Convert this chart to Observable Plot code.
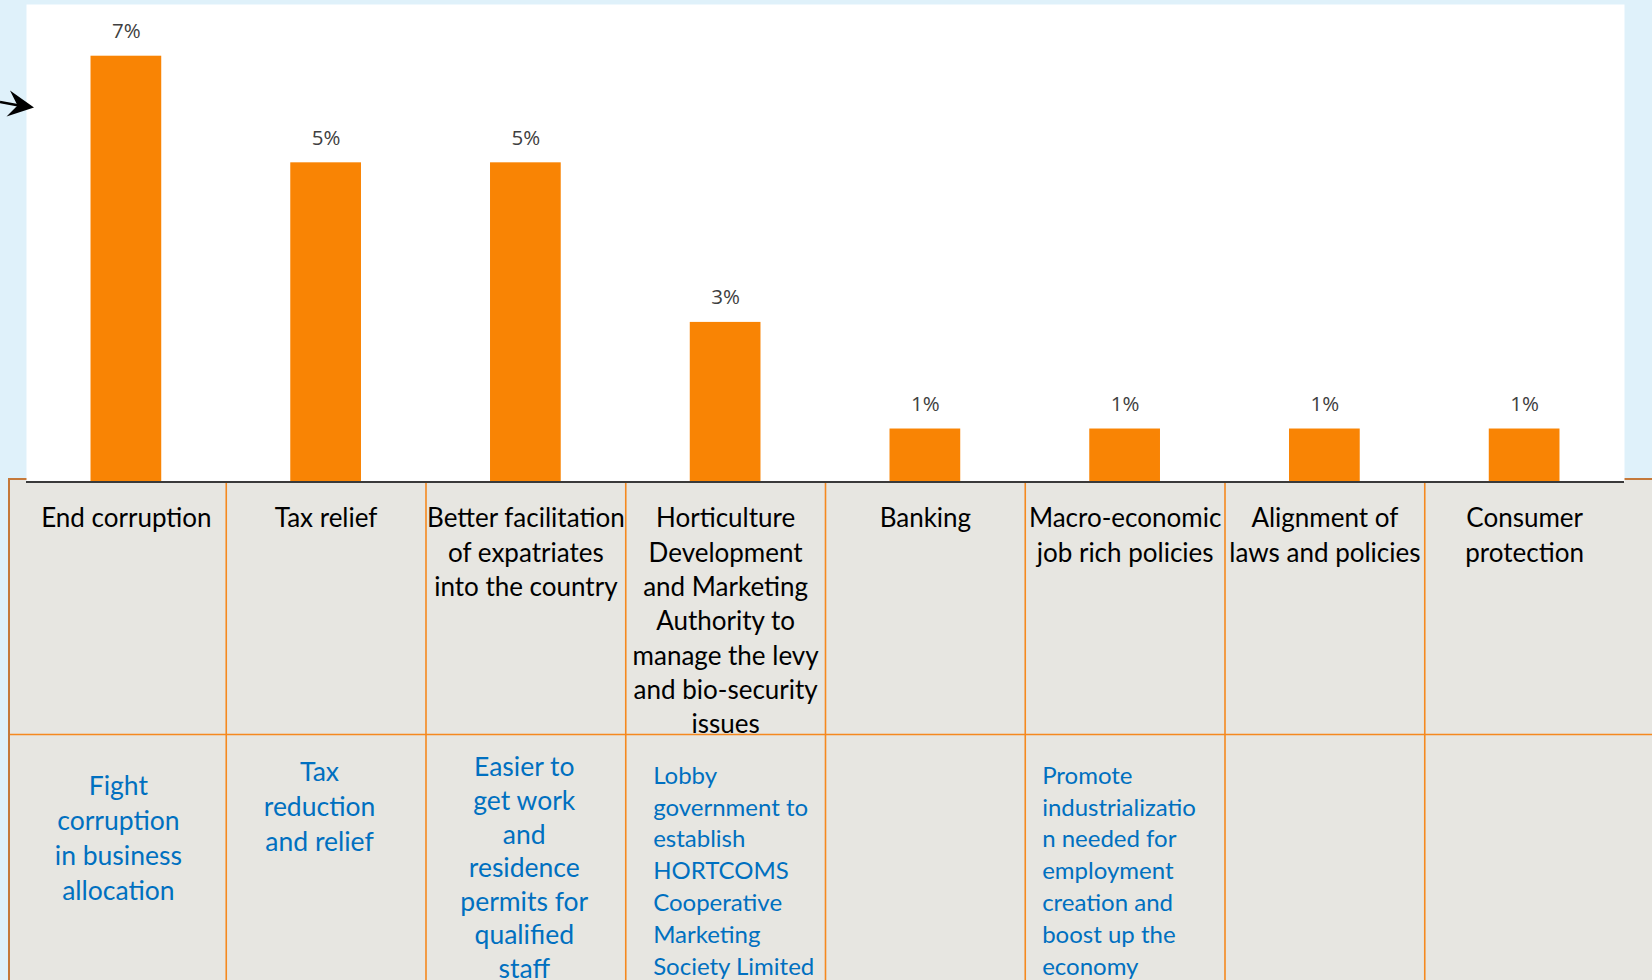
<!DOCTYPE html>
<html>
<head>
<meta charset="utf-8">
<script src="https://cdn.jsdelivr.net/npm/d3@7"></script>
<script src="https://cdn.jsdelivr.net/npm/@observablehq/plot@0.6"></script>
<style>
html, body { margin:0; padding:0; background:#DFF1FA; overflow:hidden; }
#wrap { position:relative; width:1652px; height:980px; }
#tablebg { position:absolute; left:8px; top:478px; width:1644px; height:502px; background:#E7E6E1;
  border-left:2px solid #C5793A; border-top:2px solid #C5793A; box-sizing:border-box; }
#table { position:absolute; left:0; top:479px; }
#chart { position:absolute; left:0; top:0; }
#arrow { position:absolute; left:0; top:0; }
</style>
</head>
<body>
<div id="wrap">
  <div id="tablebg"></div>
  <div id="table"></div>
  <div id="chart"></div>
  <svg id="arrow" width="40" height="130" viewBox="0 0 40 130">
    <path d="M0,102 L19,105.5" stroke="#000" stroke-width="2.6" fill="none"/>
    <path d="M34,107.5 L10,90.5 L17.5,105.5 L6.5,116.5 Z" fill="#000"/>
  </svg>
</div>
<script>
// ---- data ----
const categories = [
  "End corruption",
  "Tax relief",
  "Better facilitation\nof expatriates\ninto the country",
  "Horticulture\nDevelopment\nand Marketing\nAuthority to\nmanage the levy\nand bio-security\nissues",
  "Banking",
  "Macro-economic\njob rich policies",
  "Alignment of\nlaws and policies",
  "Consumer\nprotection"
];
const values = [6.67, 5.0, 5.0, 2.5, 0.83, 0.83, 0.83, 0.83];
const valueLabels = ["7%", "5%", "5%", "3%", "1%", "1%", "1%", "1%"];
const proposals = [
  "Fight\ncorruption\nin business\nallocation",
  "Tax\nreduction\nand relief",
  "Easier to\nget work\nand\nresidence\npermits for\nqualified\nstaff",
  "Lobby\ngovernment to\nestablish\nHORTCOMS\nCooperative\nMarketing\nSociety Limited",
  "",
  "Promote\nindustrializatio\nn needed for\nemployment\ncreation and\nboost up the\neconomy",
  "",
  ""
];
const rows = ["Constraint", "Proposal"];

// ---- tables built from the arrays ----
const bars = categories.map((c, i) => ({category: c, value: values[i], label: valueLabels[i]}));
const proposalRows = categories.map((c, i) => ({category: c, text: proposals[i]}));

// ---- layout / style ----
const ORANGE = "#F98404";
const GRID = "#F5891F";
const BLUE = "#0070C0";
const X0 = 26, X1 = 1624;
const step = (X1 - X0) / categories.length;

const chart = Plot.plot({
  width: 1652, height: 484,
  marginLeft: X0, marginRight: 1652 - X1, marginTop: 4, marginBottom: 2.5,
  style: {background: "transparent", overflow: "visible"},
  x: {type: "band", domain: categories, paddingInner: 0.646, paddingOuter: 0.323, round: false, axis: null},
  y: {domain: [0, 7.48], axis: null},
  marks: [
    Plot.frame({fill: "white", stroke: "none"}),
    Plot.barY(bars, {x: "category", y: "value", fill: ORANGE}),
    Plot.ruleY([0], {stroke: "#3A3A3A", strokeWidth: 2}),
    Plot.text(bars, {x: "category", y: "value", text: "label", dy: -18, lineAnchor: "bottom",
      fontFamily: "Open Sans", fontSize: 20.5, fill: "#404040"})
  ]
});
document.getElementById("chart").appendChild(chart);

// per-column typography of the blue proposal row
const blueStyles = {
  0: {dy: 290, lh: 35.2, fs: 26.5, anchor: "middle", dx: -8},
  1: {dy: 276, lh: 35.2, fs: 26.5, anchor: "middle", dx: -6.6},
  2: {dy: 273, lh: 33.6, fs: 26.5, anchor: "middle", dx: -1.6},
  3: {dy: 281.7, lh: 31.8, fs: 24, anchor: "start", dx: -72.5},
  5: {dy: 281.7, lh: 31.8, fs: 24, anchor: "start", dx: -83}
};

const blueMarks = Object.entries(blueStyles).map(([i, s]) =>
  Plot.text([proposalRows[+i]], {
    x: "category", text: "text", frameAnchor: "top", lineAnchor: "top",
    textAnchor: s.anchor, dx: s.dx, dy: s.dy, fontSize: s.fs, lineHeight: s.lh / s.fs,
    fontFamily: "Lato", fill: BLUE
  })
);

const table = Plot.plot({
  width: 1652, height: 501,
  marginLeft: 10, marginRight: 0, marginTop: 0, marginBottom: 0,
  style: {background: "transparent", overflow: "visible"},
  x: {type: "band", domain: categories, range: [X0, X1], padding: 0, round: false, axis: null},
  y: {type: "band", domain: rows, range: [0, 510], padding: 0, round: false, axis: null},
  marks: [
    Plot.ruleX(categories.slice(1), {x: d => d, dx: -step / 2, stroke: GRID, strokeWidth: 1.6}),
    Plot.ruleY([rows[1]], {y: d => d, dy: -127.5, stroke: GRID, strokeWidth: 1.6}),
    Plot.text(categories, {x: d => d, text: d => d, frameAnchor: "top", lineAnchor: "top",
      dy: 23.6, fontSize: 26, lineHeight: 34.3 / 26, fontFamily: "Lato", fill: "#000"}),
    ...blueMarks
  ]
});
document.getElementById("table").appendChild(table);
</script>
</body>
</html>
